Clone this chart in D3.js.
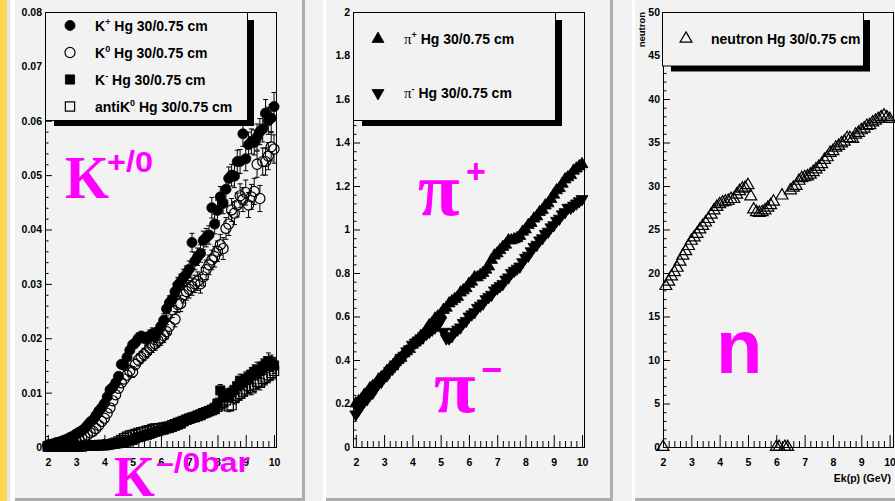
<!DOCTYPE html>
<html>
<head>
<meta charset="utf-8">
<script src="https://cdn.jsdelivr.net/npm/d3@7"></script>
<style>
  html, body { margin: 0; padding: 0; background: #f2f2f2; }
  svg { display: block; }
</style>
</head>
<body>
<script>
// Kinetic energy of the beam proton, GeV (bin centres shared by every series)
const energies = [
  2.0, 2.1, 2.2, 2.3, 2.4, 2.5, 2.6, 2.7, 2.8, 2.9,
  3.0, 3.1, 3.2, 3.3, 3.4, 3.5, 3.6, 3.7, 3.8, 3.9,
  4.0, 4.1, 4.2, 4.3, 4.4, 4.5, 4.6, 4.7, 4.8, 4.9,
  5.0, 5.1, 5.2, 5.3, 5.4, 5.5, 5.6, 5.7, 5.8, 5.9,
  6.0, 6.1, 6.2, 6.3, 6.4, 6.5, 6.6, 6.7, 6.8, 6.9,
  7.0, 7.1, 7.2, 7.3, 7.4, 7.5, 7.6, 7.7, 7.8, 7.9,
  8.0, 8.1, 8.2, 8.3, 8.4, 8.5, 8.6, 8.7, 8.8, 8.9,
  9.0, 9.1, 9.2, 9.3, 9.4, 9.5, 9.6, 9.7, 9.8, 9.9,
  10.0
];

// Kaon yields per proton, Hg target 30 cm long, 0.75 cm radius
const kPlus = [
  0.0004, 0.0005, 0.0006, 0.0008, 0.0009, 0.0011, 0.0013, 0.0015, 0.0018, 0.0020,
  0.0024, 0.0027, 0.0030, 0.0034, 0.0040, 0.0046, 0.0050, 0.0058, 0.0066, 0.0072,
  0.0080, 0.0092, 0.0105, 0.0110, 0.0118, 0.0130, 0.0152, 0.0150, 0.0165, 0.0178,
  0.0188, 0.0192, 0.0200, 0.0203, 0.0201, 0.0199, 0.0204, 0.0208, 0.0203, 0.0213,
  0.0222, 0.0233, 0.0254, 0.0265, 0.0272, 0.0286, 0.0298, 0.0304, 0.0312, 0.0318,
  0.0327, 0.0376, 0.0342, 0.0350, 0.0356, 0.0380, 0.0385, 0.0390, 0.0440, 0.0410,
  0.0435, 0.0460, 0.0448, 0.0474, 0.0494, 0.0500, 0.0498, 0.0525, 0.0525, 0.0576,
  0.0530, 0.0556, 0.0562, 0.0560, 0.0570, 0.0580, 0.0585, 0.0614, 0.0600, 0.0605,
  0.0626
];
const kPlusErr = [
  0.0002, 0.0002, 0.0002, 0.0002, 0.0002, 0.0003, 0.0003, 0.0003, 0.0003, 0.0003,
  0.0004, 0.0004, 0.0004, 0.0004, 0.0005, 0.0005, 0.0005, 0.0005, 0.0006, 0.0006,
  0.0006, 0.0007, 0.0007, 0.0007, 0.0007, 0.0008, 0.0008, 0.0008, 0.0009, 0.0009,
  0.0009, 0.0010, 0.0010, 0.0010, 0.0010, 0.0011, 0.0011, 0.0011, 0.0011, 0.0012,
  0.0012, 0.0012, 0.0013, 0.0013, 0.0013, 0.0014, 0.0014, 0.0014, 0.0015, 0.0015,
  0.0015, 0.0017, 0.0016, 0.0016, 0.0016, 0.0017, 0.0017, 0.0017, 0.0019, 0.0018,
  0.0019, 0.0019, 0.0019, 0.0020, 0.0021, 0.0020, 0.0021, 0.0021, 0.0022, 0.0023,
  0.0022, 0.0023, 0.0023, 0.0023, 0.0024, 0.0024, 0.0024, 0.0025, 0.0025, 0.0025,
  0.0026
];
const kZero = [
  0.0002, 0.0003, 0.0003, 0.0004, 0.0005, 0.0006, 0.0007, 0.0008, 0.0010, 0.0011,
  0.0013, 0.0015, 0.0017, 0.0019, 0.0022, 0.0026, 0.0029, 0.0034, 0.0040, 0.0047,
  0.0053, 0.0062, 0.0072, 0.0085, 0.0096, 0.0108, 0.0118, 0.0125, 0.0132, 0.0140,
  0.0138, 0.0152, 0.0160, 0.0165, 0.0170, 0.0175, 0.0182, 0.0186, 0.0190, 0.0196,
  0.0200, 0.0205, 0.0212, 0.0222, 0.0252, 0.0235, 0.0262, 0.0264, 0.0280, 0.0286,
  0.0290, 0.0295, 0.0300, 0.0305, 0.0300, 0.0313, 0.0326, 0.0335, 0.0344, 0.0350,
  0.0360, 0.0372, 0.0365, 0.0402, 0.0410, 0.0436, 0.0430, 0.0445, 0.0462, 0.0455,
  0.0468, 0.0445, 0.0460, 0.0470, 0.0520, 0.0457, 0.0525, 0.0525, 0.0535, 0.0552,
  0.0548
];
const kZeroErr = [
  0.0002, 0.0002, 0.0002, 0.0002, 0.0002, 0.0002, 0.0003, 0.0003, 0.0003, 0.0003,
  0.0003, 0.0004, 0.0004, 0.0004, 0.0004, 0.0005, 0.0005, 0.0005, 0.0006, 0.0006,
  0.0006, 0.0007, 0.0007, 0.0008, 0.0008, 0.0008, 0.0009, 0.0009, 0.0009, 0.0010,
  0.0010, 0.0010, 0.0011, 0.0011, 0.0011, 0.0011, 0.0012, 0.0012, 0.0012, 0.0012,
  0.0013, 0.0013, 0.0013, 0.0014, 0.0014, 0.0014, 0.0015, 0.0015, 0.0015, 0.0016,
  0.0016, 0.0016, 0.0016, 0.0017, 0.0017, 0.0017, 0.0018, 0.0018, 0.0018, 0.0019,
  0.0019, 0.0019, 0.0020, 0.0020, 0.0021, 0.0021, 0.0021, 0.0022, 0.0022, 0.0022,
  0.0023, 0.0023, 0.0023, 0.0024, 0.0024, 0.0024, 0.0025, 0.0025, 0.0025, 0.0026,
  0.0026
];
const kMinus = [
  0.0001, 0.0001, 0.0001, 0.0001, 0.0001, 0.0001, 0.0001, 0.0001, 0.0002, 0.0001,
  0.0002, 0.0002, 0.0002, 0.0002, 0.0003, 0.0003, 0.0003, 0.0003, 0.0004, 0.0004,
  0.0004, 0.0005, 0.0005, 0.0006, 0.0006, 0.0007, 0.0008, 0.0009, 0.0010, 0.0012,
  0.0013, 0.0016, 0.0018, 0.0019, 0.0021, 0.0022, 0.0024, 0.0026, 0.0028, 0.0029,
  0.0031, 0.0032, 0.0034, 0.0035, 0.0037, 0.0039, 0.0041, 0.0043, 0.0047, 0.0050,
  0.0052, 0.0054, 0.0056, 0.0058, 0.0060, 0.0062, 0.0064, 0.0066, 0.0068, 0.0072,
  0.0080, 0.0104, 0.0092, 0.0096, 0.0094, 0.0100, 0.0105, 0.0112, 0.0122, 0.0118,
  0.0125, 0.0128, 0.0133, 0.0138, 0.0142, 0.0140, 0.0148, 0.0152, 0.0158, 0.0154,
  0.0150
];
const kMinusErr = [
  0.0001, 0.0001, 0.0001, 0.0001, 0.0001, 0.0001, 0.0001, 0.0001, 0.0001, 0.0001,
  0.0001, 0.0001, 0.0001, 0.0001, 0.0001, 0.0001, 0.0001, 0.0001, 0.0001, 0.0001,
  0.0002, 0.0002, 0.0002, 0.0002, 0.0002, 0.0002, 0.0002, 0.0002, 0.0002, 0.0003,
  0.0003, 0.0003, 0.0003, 0.0003, 0.0004, 0.0004, 0.0004, 0.0004, 0.0004, 0.0005,
  0.0005, 0.0005, 0.0005, 0.0006, 0.0006, 0.0006, 0.0006, 0.0007, 0.0007, 0.0007,
  0.0007, 0.0008, 0.0008, 0.0008, 0.0008, 0.0009, 0.0009, 0.0009, 0.0009, 0.0010,
  0.0010, 0.0011, 0.0010, 0.0011, 0.0011, 0.0011, 0.0012, 0.0012, 0.0012, 0.0012,
  0.0013, 0.0013, 0.0013, 0.0013, 0.0014, 0.0014, 0.0014, 0.0014, 0.0015, 0.0015,
  0.0015
];
const antiKZero = [
  0.0001, 0.0001, 0.0001, 0.0001, 0.0001, 0.0001, 0.0001, 0.0001, 0.0001, 0.0001,
  0.0001, 0.0001, 0.0001, 0.0002, 0.0002, 0.0002, 0.0002, 0.0002, 0.0003, 0.0003,
  0.0003, 0.0004, 0.0005, 0.0006, 0.0008, 0.0010, 0.0013, 0.0016, 0.0019, 0.0021,
  0.0022, 0.0024, 0.0026, 0.0027, 0.0028, 0.0030, 0.0031, 0.0033, 0.0034, 0.0034,
  0.0035, 0.0036, 0.0037, 0.0038, 0.0040, 0.0042, 0.0044, 0.0046, 0.0048, 0.0050,
  0.0052, 0.0054, 0.0055, 0.0057, 0.0059, 0.0062, 0.0064, 0.0066, 0.0068, 0.0070,
  0.0074, 0.0078, 0.0082, 0.0086, 0.0075, 0.0077, 0.0090, 0.0095, 0.0098, 0.0102,
  0.0106, 0.0112, 0.0108, 0.0115, 0.0120, 0.0118, 0.0125, 0.0128, 0.0132, 0.0136,
  0.0140
];
const antiKZeroErr = [
  0.0001, 0.0001, 0.0001, 0.0001, 0.0001, 0.0001, 0.0001, 0.0001, 0.0001, 0.0001,
  0.0001, 0.0001, 0.0001, 0.0001, 0.0001, 0.0001, 0.0001, 0.0001, 0.0001, 0.0001,
  0.0002, 0.0002, 0.0002, 0.0002, 0.0002, 0.0002, 0.0003, 0.0003, 0.0003, 0.0003,
  0.0003, 0.0003, 0.0004, 0.0004, 0.0004, 0.0004, 0.0004, 0.0005, 0.0005, 0.0005,
  0.0005, 0.0005, 0.0006, 0.0006, 0.0006, 0.0006, 0.0006, 0.0007, 0.0007, 0.0007,
  0.0007, 0.0008, 0.0008, 0.0008, 0.0008, 0.0008, 0.0009, 0.0009, 0.0009, 0.0009,
  0.0010, 0.0010, 0.0010, 0.0011, 0.0010, 0.0010, 0.0011, 0.0011, 0.0012, 0.0012,
  0.0012, 0.0012, 0.0012, 0.0013, 0.0013, 0.0013, 0.0013, 0.0014, 0.0014, 0.0014,
  0.0015
];

// Pion yields per proton
const piPlus = [
  0.20, 0.21, 0.22, 0.24, 0.25, 0.27, 0.28, 0.29, 0.31, 0.32,
  0.33, 0.35, 0.36, 0.37, 0.39, 0.40, 0.41, 0.43, 0.44, 0.45,
  0.47, 0.48, 0.49, 0.51, 0.52, 0.54, 0.56, 0.57, 0.59, 0.60,
  0.61, 0.63, 0.64, 0.66, 0.67, 0.68, 0.69, 0.71, 0.72, 0.73,
  0.75, 0.76, 0.78, 0.78, 0.79, 0.80, 0.815, 0.83, 0.86, 0.88,
  0.89, 0.905, 0.92, 0.93, 0.95, 0.95, 0.955, 0.96, 0.97, 0.99,
  1.00, 1.02, 1.03, 1.05, 1.06, 1.08, 1.09, 1.11, 1.12, 1.14,
  1.16, 1.18, 1.19, 1.21, 1.23, 1.24, 1.25, 1.27, 1.28, 1.29,
  1.30
];
const piMinus = [
  0.15, 0.17, 0.19, 0.21, 0.22, 0.24, 0.25, 0.27, 0.29, 0.30,
  0.32, 0.33, 0.35, 0.36, 0.38, 0.39, 0.41, 0.42, 0.44, 0.45,
  0.47, 0.48, 0.49, 0.50, 0.51, 0.52, 0.53, 0.54, 0.55, 0.56,
  0.58, 0.53, 0.50, 0.50, 0.51, 0.53, 0.54, 0.55, 0.57, 0.58,
  0.60, 0.61, 0.62, 0.64, 0.65, 0.66, 0.68, 0.69, 0.70, 0.72,
  0.73, 0.74, 0.75, 0.77, 0.78, 0.80, 0.81, 0.82, 0.83, 0.85,
  0.87, 0.88, 0.90, 0.92, 0.93, 0.95, 0.96, 0.98, 0.99, 1.01,
  1.02, 1.04, 1.05, 1.07, 1.08, 1.10, 1.10, 1.11, 1.12, 1.13,
  1.14
];

// Neutron yield per proton (empty bins stay at zero)
const neutron = [
  0.0, 18.5, 19.0, 19.6, 20.1, 20.6, 21.3, 22.0, 22.5, 23.1,
  23.7, 24.1, 24.5, 25.0, 25.4, 25.8, 26.2, 26.7, 27.2, 27.6,
  27.9, 28.1, 28.2, 28.3, 28.5, 28.5, 29.0, 29.4, 29.7, 29.8,
  30.1, 28.8, 27.3, 27.0, 26.9, 27.0, 27.2, 27.5, 27.8, 28.2,
  0.0, 0.0, 28.9, 0.0, 0.0, 29.5, 29.8, 30.0, 30.6, 30.9,
  31.0, 31.1, 31.3, 31.6, 31.9, 32.2, 32.5, 33.0, 33.3, 33.8,
  34.0, 34.4, 34.6, 34.9, 35.1, 35.5, 35.5, 35.4, 35.9, 36.1,
  36.4, 36.6, 36.9, 37.0, 37.3, 37.5, 37.7, 37.9, 38.1, 37.9,
  37.7
];

// Axis ticks and their labels
const xTicks = [2, 3, 4, 5, 6, 7, 8, 9, 10];
const xTickLabels = ["2", "3", "4", "5", "6", "7", "8", "9", "10"];
const kTicks = [0, 0.01, 0.02, 0.03, 0.04, 0.05, 0.06, 0.07, 0.08];
const kTickLabels = ["0", "0.01", "0.02", "0.03", "0.04", "0.05", "0.06", "0.07", "0.08"];
const piTicks = [0, 0.2, 0.4, 0.6, 0.8, 1.0, 1.2, 1.4, 1.6, 1.8, 2.0];
const piTickLabels = ["0", "0.2", "0.4", "0.6", "0.8", "1", "1.2", "1.4", "1.6", "1.8", "2"];
const nTicks = [0, 5, 10, 15, 20, 25, 30, 35, 40, 45, 50];
const nTickLabels = ["0", "5", "10", "15", "20", "25", "30", "35", "40", "45", "50"];

// Legend entries: particle symbol, superscript, remainder
const kLegend = [
  ["K", "+", " Hg 30/0.75 cm"],
  ["K", "0", " Hg 30/0.75 cm"],
  ["K", "-", " Hg 30/0.75 cm"],
  ["antiK", "0", " Hg 30/0.75 cm"]
];
const piLegend = [
  ["π", "+", " Hg 30/0.75 cm"],
  ["π", "-", " Hg 30/0.75 cm"]
];
const nLegend = [["neutron", "", " Hg 30/0.75 cm"]];

// ---------------------------------------------------------------------------
const W = 895, H = 501;
const SANS = "'Liberation Sans', Arial, Helvetica, sans-serif";
const SERIF = "'Liberation Serif', 'Times New Roman', serif";
const MAGENTA = "#ff00ff";
const BG = "#f2f2f2";

const svg = d3.select("body").append("svg").attr("width", W).attr("height", H);

// canvas, side strip and the three pads with bevelled edges
svg.append("rect").attr("width", W).attr("height", H).attr("fill", BG);
svg.append("rect").attr("width", 7).attr("height", H).attr("fill", "#fcd64c");
svg.append("rect").attr("x", 7).attr("width", 3).attr("height", H).attr("fill", "#e4e4e4");

const pads = [
  { x0: 10, x1: 305, hl: 5 },
  { x0: 323, x1: 613, hl: 3 },
  { x0: 632, x1: 900, hl: 3 }
];
pads.forEach(p => {
  svg.append("rect").attr("x", p.x0).attr("y", 0).attr("width", p.x1 - p.x0).attr("height", H).attr("fill", BG);
  svg.append("rect").attr("x", p.x0).attr("y", 0).attr("width", p.hl).attr("height", H).attr("fill", "#ffffff");
  svg.append("rect").attr("x", p.x1 - 3).attr("y", 0).attr("width", 3).attr("height", H).attr("fill", "#adadad");
  svg.append("rect").attr("x", p.x0 + p.hl).attr("y", H - 3).attr("width", p.x1 - p.x0 - p.hl).attr("height", 3).attr("fill", "#adadad");
});

// scales for the three frames
const xK = d3.scaleLinear().domain([1.9, 10.07]).range([45, 276]);
const yK = d3.scaleLinear().domain([0, 0.08]).range([447, 12]);
const xPi = d3.scaleLinear().domain([1.9, 10.07]).range([353, 584]);
const yPi = d3.scaleLinear().domain([0, 2]).range([447, 12]);
const xN = d3.scaleLinear().domain([2, 10.12]).range([663, 893]);
const yN = d3.scaleLinear().domain([0, 50]).range([447, 12]);

const xMinor = d3.range(2, 10.001, 0.2).filter(v => Math.abs(v - Math.round(v)) > 1e-6);

function styleAxis(sel) {
  sel.attr("font-family", null).attr("font-size", null);
  sel.selectAll("text")
    .attr("font-family", SANS).attr("font-weight", "bold").attr("font-size", 10.5).attr("fill", "#000");
  sel.selectAll("line").attr("stroke", "#000");
  sel.select(".domain").attr("stroke", "#000");
}

function drawFrame(x, y, yTicks, yLabels, yMinorStep) {
  const g = svg.append("g");
  const [xl, xr] = x.range();
  const [yb, yt] = y.range();
  const yMax = y.domain()[1];
  const yMinor = d3.range(0, yMax + 1e-9, yMinorStep)
    .filter(v => !yTicks.some(t => Math.abs(t - v) < yMinorStep / 10));

  g.append("g").attr("transform", `translate(0,${yb})`)
    .call(d3.axisBottom(x).tickValues(xMinor).tickSize(-6).tickSizeOuter(0).tickFormat(""))
    .call(styleAxis);
  g.append("g").attr("transform", `translate(0,${yb})`)
    .call(d3.axisBottom(x).tickValues(xTicks).tickSize(-12).tickSizeOuter(0).tickPadding(12)
      .tickFormat((d, i) => xTickLabels[i]))
    .call(styleAxis);
  g.append("g").attr("transform", `translate(${xl},0)`)
    .call(d3.axisLeft(y).tickValues(yMinor).tickSize(-3.5).tickSizeOuter(0).tickFormat(""))
    .call(styleAxis);
  g.append("g").attr("transform", `translate(${xl},0)`)
    .call(d3.axisLeft(y).tickValues(yTicks).tickSize(-7).tickSizeOuter(0).tickPadding(3)
      .tickFormat((d, i) => yLabels[i]))
    .call(styleAxis);

  g.append("rect")
    .attr("x", xl + 0.5).attr("y", yt + 0.5)
    .attr("width", xr - xl).attr("height", yb - yt)
    .attr("fill", "none").attr("stroke", "#000");
  return g;
}

// marker shapes
const SHAPES = {
  circle: { path: d3.symbol(d3.symbolCircle, 80)(), half: 5, rot: 0 },
  square: { path: d3.symbol(d3.symbolSquare, 85)(), half: 4.6, rot: 0 },
  up: { path: d3.symbol(d3.symbolTriangle, 62)(), half: 5.5, rot: 0 },
  down: { path: d3.symbol(d3.symbolTriangle, 62)(), half: 5.5, rot: 180 }
};

function placeMarker(g, shape, open, cx, cy) {
  const s = SHAPES[shape];
  g.append("path")
    .attr("d", s.path)
    .attr("transform", `translate(${cx},${cy})` + (s.rot ? ` rotate(${s.rot})` : ""))
    .attr("fill", open ? "none" : "#000")
    .attr("stroke", "#000")
    .attr("stroke-width", open ? 1.2 : 0.8);
}

function drawSeries(x, y, xs, ys, errs, shape, open) {
  const g = svg.append("g");
  const pts = xs.map((v, i) => ({ x: v, y: ys[i], e: errs ? errs[i] : 0 }));
  const half = SHAPES[shape].half;
  if (errs) {
    pts.forEach(p => {
      const cx = x(p.x), cy = y(p.y);
      const hi = y(p.y + p.e), lo = y(p.y - p.e);
      if (cy - hi > half) {
        g.append("line").attr("x1", cx).attr("x2", cx).attr("y1", cy - half).attr("y2", hi).attr("stroke", "#000");
        g.append("line").attr("x1", cx - 2.5).attr("x2", cx + 2.5).attr("y1", hi).attr("y2", hi).attr("stroke", "#000");
      }
      if (lo - cy > half) {
        g.append("line").attr("x1", cx).attr("x2", cx).attr("y1", cy + half).attr("y2", lo).attr("stroke", "#000");
        g.append("line").attr("x1", cx - 2.5).attr("x2", cx + 2.5).attr("y1", lo).attr("y2", lo).attr("stroke", "#000");
      }
    });
  }
  pts.forEach(p => placeMarker(g, shape, open, x(p.x), y(p.y)));
}

function drawLegend(box, entries, markers, symbolFont) {
  const g = svg.append("g");
  const w = box.x1 - box.x0, h = box.y1 - box.y0;
  g.append("rect").attr("x", box.x0 + 9).attr("y", box.y0 + 8)
    .attr("width", w - 2).attr("height", h - 2).attr("fill", "#000");
  g.append("rect").attr("x", box.x0 + 0.5).attr("y", box.y0 + 0.5)
    .attr("width", w).attr("height", h).attr("fill", BG).attr("stroke", "#000");
  const rowH = h / entries.length;
  entries.forEach((e, i) => {
    const cy = box.y0 + (i + 0.5) * rowH;
    placeMarker(g, markers[i].shape, markers[i].open, box.mx, cy);
    const t = g.append("text").attr("x", box.tx).attr("y", cy + 5)
      .attr("font-family", SANS).attr("font-weight", "bold").attr("font-size", 14).attr("fill", "#000");
    const sym = t.append("tspan").text(e[0]);
    if (symbolFont) sym.attr("font-family", SERIF).attr("font-weight", "normal").attr("font-size", 15);
    if (e[1]) {
      t.append("tspan").attr("dy", -6).attr("font-size", 9).text(e[1]);
      t.append("tspan").attr("dy", 6).text(e[2]);
    } else {
      t.append("tspan").text(e[2]);
    }
  });
}

// ---- kaons
drawFrame(xK, yK, kTicks, kTickLabels, 0.002);
drawSeries(xK, yK, energies, kPlus, kPlusErr, "circle", false);
drawSeries(xK, yK, energies, kZero, kZeroErr, "circle", true);
drawSeries(xK, yK, energies, kMinus, kMinusErr, "square", false);
drawSeries(xK, yK, energies, antiKZero, antiKZeroErr, "square", true);
drawLegend({ x0: 45, x1: 247, y0: 12, y1: 120, mx: 70, tx: 95 }, kLegend, [
  { shape: "circle", open: false }, { shape: "circle", open: true },
  { shape: "square", open: false }, { shape: "square", open: true }
], false);

// ---- pions
drawFrame(xPi, yPi, piTicks, piTickLabels, 0.04);
drawSeries(xPi, yPi, energies, piPlus, null, "up", false);
drawSeries(xPi, yPi, energies, piMinus, null, "down", false);
drawLegend({ x0: 353, x1: 555, y0: 12, y1: 120, mx: 378, tx: 404 }, piLegend, [
  { shape: "up", open: false }, { shape: "down", open: false }
], true);

// ---- neutrons
drawFrame(xN, yN, nTicks, nTickLabels, 1);
drawSeries(xN, yN, energies, neutron, null, "up", true);
drawLegend({ x0: 662, x1: 863, y0: 12, y1: 65.5, mx: 686, tx: 711 }, nLegend, [
  { shape: "up", open: true }
], false);

// axis titles
svg.append("text")
  .attr("transform", "translate(645,12) rotate(-90)")
  .attr("text-anchor", "end")
  .attr("font-family", SANS).attr("font-weight", "bold").attr("font-size", 9.5)
  .text("neutron");
svg.append("text")
  .attr("x", 891).attr("y", 482).attr("text-anchor", "end")
  .attr("font-family", SANS).attr("font-weight", "bold").attr("font-size", 10.5)
  .text("Ek(p) (GeV)");

// big magenta particle labels
function bigText(x, y, str, family, size, opts = {}) {
  const t = svg.append("text").attr("x", x).attr("y", y)
    .attr("font-family", family).attr("font-weight", "bold").attr("font-size", size)
    .attr("fill", MAGENTA).text(str);
  if (opts.len) t.attr("textLength", opts.len).attr("lengthAdjust", "spacingAndGlyphs");
  return t;
}
bigText(65, 198, "K", SERIF, 62, { len: 44 });
bigText(107, 172, "+/0", SANS, 30, { len: 46 });
bigText(114, 496, "K", SERIF, 58, { len: 41 });
bigText(156, 472, "–/0bar", SANS, 27, { len: 94 });
bigText(418, 215, "π", SERIF, 76);
bigText(466, 183, "+", SANS, 34);
bigText(434, 412, "π", SERIF, 76);
bigText(481, 382, "−", SANS, 36);
bigText(716, 373, "n", SANS, 76);
</script>
</body>
</html>
